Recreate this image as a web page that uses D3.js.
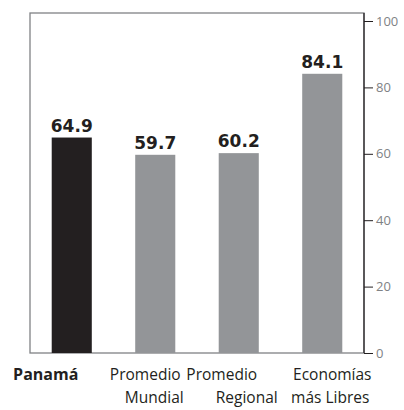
<!DOCTYPE html>
<html>
<head>
<meta charset="utf-8">
<script src="https://cdn.jsdelivr.net/npm/d3@7"></script>
<style>
  body { margin: 0; background: #fff; }
</style>
</head>
<body>
<div id="chart-container"></div>
<script>
/**************************************************
 * Data
 **************************************************/

// Índice de libertad económica: Panamá vs promedios
const categories = ["Panamá", "Promedio Mundial", "Promedio Regional", "Economías más Libres"];
const labelLines = [["Panamá"], ["Promedio", "Mundial"], ["Promedio", "Regional"], ["Economías", "más Libres"]];
const scores = [64.9, 59.7, 60.2, 84.1];
const yTicks = [0, 20, 40, 60, 80, 100];

/**************************************************
 * Rendering
 **************************************************/

function renderChart() {
  const width = 404, height = 410;
  const svg = d3.select("#chart-container")
    .append("svg")
    .attr("width", width)
    .attr("height", height);

  const left = 30, right = 364, top = 13, bottom = 353;

  const xScale = d3.scaleBand()
    .domain(categories)
    .range([left, right])
    .paddingInner(0.52)
    .paddingOuter(0.26);

  const yScale = d3.scaleLinear()
    .domain([0, 100])
    .range([bottom, 21]);

  // frame
  svg.append("rect")
    .attr("x", left)
    .attr("y", top)
    .attr("width", right - left)
    .attr("height", bottom - top)
    .attr("fill", "none")
    .attr("stroke", "#808285")
    .attr("stroke-width", 1.3);

  // bars
  svg.selectAll("rect.bar")
    .data(scores)
    .enter()
    .append("rect")
    .attr("class", "bar")
    .attr("x", (d, i) => xScale(categories[i]))
    .attr("y", d => yScale(d))
    .attr("width", xScale.bandwidth())
    .attr("height", d => yScale(0) - yScale(d))
    .attr("fill", (d, i) => i === 0 ? "#231f20" : "#939598");

  // value labels
  svg.selectAll("text.value")
    .data(scores)
    .enter()
    .append("text")
    .attr("class", "value")
    .attr("x", (d, i) => xScale(categories[i]) + xScale.bandwidth() / 2)
    .attr("y", d => yScale(d) - 6)
    .attr("text-anchor", "middle")
    .attr("font-family", "'DejaVu Sans', sans-serif")
    .attr("font-weight", "bold")
    .attr("font-size", "17px")
    .attr("fill", "#231f20")
    .text(d => d.toFixed(1));

  // right axis
  const yAxis = d3.axisRight(yScale)
    .tickValues(yTicks)
    .tickSize(9)
    .tickPadding(3)
    .tickFormat(d3.format("d"));

  const axisG = svg.append("g")
    .attr("transform", `translate(${right},0)`)
    .call(yAxis);
  axisG.select(".domain")
    .attr("d", `M0,${top}V${bottom}`)
    .attr("stroke", "#231f20")
    .attr("stroke-width", 1.2);
  axisG.selectAll(".tick line")
    .attr("stroke", "#231f20");
  axisG.selectAll(".tick text")
    .attr("fill", "#808285")
    .attr("font-family", "'Open Sans', sans-serif")
    .attr("font-size", "13px");

  // category labels (shifted a bit off the bar centres, like the original)
  const shiftLine1 = [-26, -10, -17, 10];
  const shiftLine2 = [0, -1, 8, 8];
  categories.forEach((c, i) => {
    const cx = xScale(c) + xScale.bandwidth() / 2;
    labelLines[i].forEach((line, j) => {
      svg.append("text")
        .attr("x", cx + (j === 0 ? shiftLine1[i] : shiftLine2[i]))
        .attr("y", 380 + j * 23)
        .attr("text-anchor", "middle")
        .attr("font-family", "'Open Sans', sans-serif")
        .attr("font-size", i === 0 ? "16px" : "15.5px")
        .attr("font-weight", i === 0 ? "bold" : "normal")
        .attr("fill", "#231f20")
        .text(line);
    });
  });
}

renderChart();
</script>
</body>
</html>
